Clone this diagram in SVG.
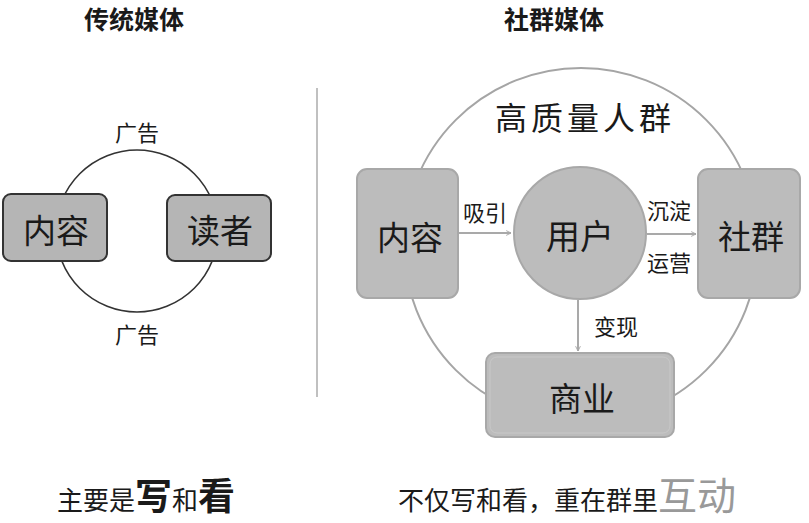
<svg xmlns="http://www.w3.org/2000/svg" width="809" height="523" viewBox="0 0 809 523">
<style>
text{font-family:"Noto Sans CJK SC","Noto Sans",sans-serif;fill:#1a1a1a;}
.title{font-size:25px;font-weight:bold;text-anchor:middle;}
.big{font-size:33px;text-anchor:middle;}
.lbl{font-size:22px;text-anchor:middle;}
.lbox{fill:#b5b5b5;stroke:#333;stroke-width:2;}
.rbox{fill:#bcbcbc;stroke:#a8a8a8;stroke-width:2;}
.conn{stroke:#a9a9a9;stroke-width:2;fill:none;}
</style>
<defs>
<marker id="arr" viewBox="0 0 10 10" refX="9" refY="5" markerWidth="6" markerHeight="6" markerUnits="userSpaceOnUse" orient="auto">
<path d="M1,1 L9,5 L1,9" fill="none" stroke="#a9a9a9" stroke-width="1.6"/>
</marker>
</defs>
<rect width="809" height="523" fill="#fff"/>
<text class="title" x="134" y="29">传统媒体</text>
<text class="title" x="554" y="29">社群媒体</text>
<line x1="317" y1="88" x2="317" y2="397" stroke="#c0c0c0" stroke-width="2"/>
<g id="left-cycle">
<circle cx="137" cy="231" r="81" fill="none" stroke="#333" stroke-width="1.6"/>
<text class="lbl" x="137" y="141">广告</text>
<text class="lbl" x="137" y="343">广告</text>
</g>
<g id="left-content"><rect class="lbox" x="3" y="194" width="104" height="67" rx="8"/><text class="big" x="56" y="242.5">内容</text></g>
<g id="left-reader"><rect class="lbox" x="167" y="195" width="104" height="66" rx="8"/><text class="big" x="220" y="242.5">读者</text></g>
<g id="crowd">
<circle cx="581" cy="245" r="177" fill="none" stroke="#a5a5a5" stroke-width="2"/>
<text x="585" y="130" style="font-size:32px;text-anchor:middle;letter-spacing:4px;">高质量人群</text>
</g>
<g id="right-content"><rect class="rbox" x="357" y="169" width="101" height="129" rx="10"/><text class="big" x="410" y="250">内容</text></g>
<g id="user"><circle cx="580" cy="233" r="66" fill="#bcbcbc" stroke="#a8a8a8" stroke-width="2"/><text class="big" x="580" y="248.5" style="font-size:34px">用户</text></g>
<g id="community"><rect class="rbox" x="698" y="169" width="102" height="129" rx="10"/><text class="big" x="751" y="249">社群</text></g>
<g id="business"><rect class="rbox" x="486" y="353" width="188" height="84" rx="9"/><rect x="490" y="357" width="180" height="76" rx="7" fill="none" stroke="#c8c8c8" stroke-width="1"/><text class="big" x="582" y="410.5">商业</text></g>
<g id="connectors">
<line class="conn" x1="459" y1="233" x2="511" y2="233" marker-end="url(#arr)"/>
<line class="conn" x1="647" y1="234" x2="696" y2="234" marker-end="url(#arr)"/>
<line class="conn" x1="578" y1="300" x2="578" y2="351" marker-end="url(#arr)"/>
<text class="lbl" x="485" y="220.5">吸引</text>
<text class="lbl" x="669" y="218.5">沉淀</text>
<text class="lbl" x="669" y="270.5">运营</text>
<text class="lbl" x="616" y="334.5">变现</text>
</g>
<text x="57" y="510" style="font-size:26px">主要是<tspan style="font-size:37px;font-weight:bold">写</tspan>和<tspan style="font-size:37px;font-weight:bold">看</tspan></text>
<text x="398" y="510" style="font-size:26px">不仅写和看，重在群里<tspan style="font-size:39px;fill:#999">互动</tspan></text>
</svg>
